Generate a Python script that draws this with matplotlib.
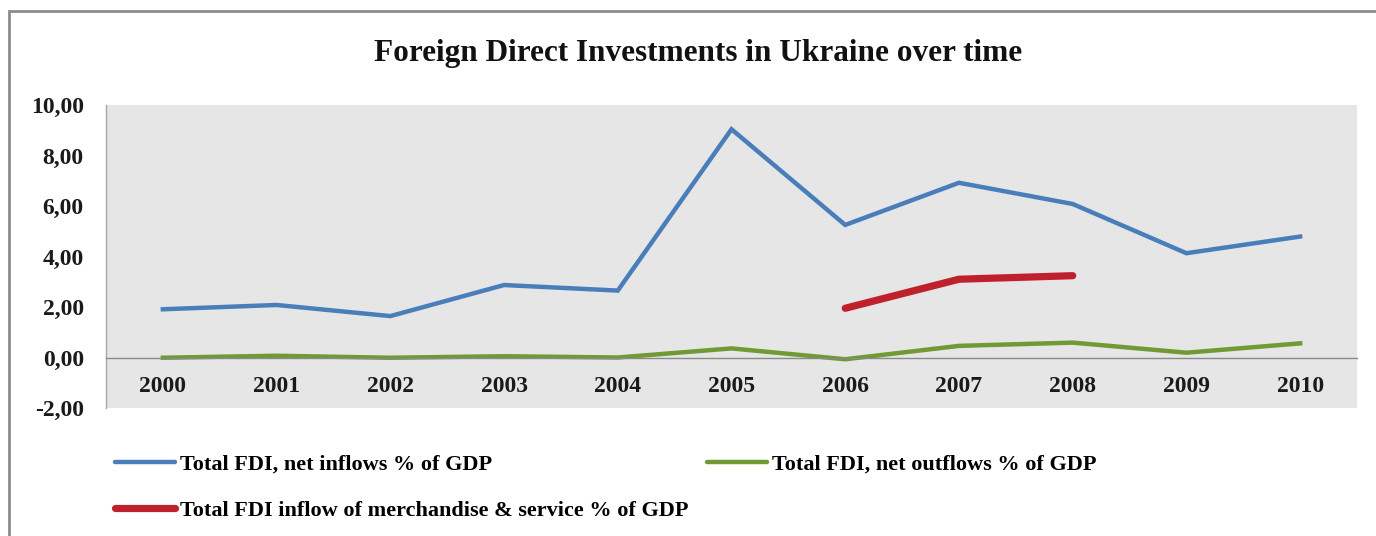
import matplotlib
matplotlib.use("Agg")
import matplotlib.pyplot as plt
from matplotlib.patches import Rectangle
from matplotlib.ticker import FuncFormatter

years = ["2000", "2001", "2002", "2003", "2004", "2005", "2006", "2007", "2008", "2009", "2010"]
net_inflows = [1.91, 2.08, 1.64, 2.87, 2.65, 9.04, 5.25, 6.92, 6.08, 4.13, 4.79]
net_outflows = [-0.01, 0.07, -0.01, 0.05, 0.00, 0.36, -0.07, 0.46, 0.59, 0.19, 0.56]
merch_service_years = ["2006", "2007", "2008"]
merch_service = [1.95, 3.10, 3.24]

TITLE = "Foreign Direct Investments in Ukraine over time"
LABEL_IN = "Total FDI, net inflows % of GDP"
LABEL_OUT = "Total FDI, net outflows % of GDP"
LABEL_MERCH = "Total FDI inflow of merchandise & service % of GDP"

SERIF = ["Liberation Serif", "DejaVu Serif"]
BLUE = "#4a7ebb"
GREEN = "#6f9a34"
RED = "#c0202b"

W, H = 1376, 536
fig = plt.figure(figsize=(W / 100, H / 100), dpi=100)
fig.patch.set_facecolor("white")

# outer chart frame (runs off the right and bottom edges)
fig.patches.append(Rectangle((9 / W, -0.1), 1.2, 1 - 11 / H + 0.1,
                             transform=fig.transFigure, fill=False,
                             edgecolor="#8c8c8c", linewidth=2))

ax = fig.add_axes([106 / W, 1 - 408 / H, (1357 - 106) / W, (408 - 105) / H])
ax.set_facecolor("#e6e6e6")

x = list(range(len(years)))
x_merch = [years.index(y) for y in merch_service_years]

l_in, = ax.plot(x, net_inflows, color=BLUE, linewidth=3.2, solid_joinstyle="miter")
l_out, = ax.plot(x, net_outflows, color=GREEN, linewidth=3.2, solid_joinstyle="miter")
l_merch, = ax.plot(x_merch, merch_service, color=RED, linewidth=5.2,
                   solid_capstyle="round", solid_joinstyle="miter")

ax.set_xlim(-0.5, len(years) - 0.5)
ax.set_ylim(-2, 10)
ax.set_yticks([-2, 0, 2, 4, 6, 8, 10])
ax.yaxis.set_major_formatter(FuncFormatter(lambda v, _: f"{v:.2f}".replace(".", ",")))

ax.spines["top"].set_visible(False)
ax.spines["right"].set_visible(False)
ax.spines["left"].set_color("#a6a6a6")
ax.spines["left"].set_linewidth(1.0)
ax.spines["bottom"].set_position(("data", 0))
ax.spines["bottom"].set_color("#8a8a8a")
ax.spines["bottom"].set_linewidth(1.0)

ax.set_xticks(x)
ax.set_xticklabels(years)
ax.tick_params(axis="x", length=0, pad=13)
ax.tick_params(axis="y", length=0, pad=16)
for lbl in ax.get_xticklabels() + ax.get_yticklabels():
    lbl.set_fontfamily(SERIF)
    lbl.set_fontweight("bold")
    lbl.set_fontsize(17)
    lbl.set_color("#1a1a1a")

fig.text(698 / W, 1 - 53 / H, TITLE, ha="center", va="center",
         fontsize=22.5, fontweight="bold", family=SERIF, color="#111111")

leg = fig.legend([l_in, l_merch, l_out], [LABEL_IN, LABEL_MERCH, LABEL_OUT],
                 ncol=2, loc="upper left", bbox_to_anchor=(115 / W, 1 - 454 / H),
                 frameon=False, borderpad=0, borderaxespad=0,
                 handlelength=2.7, handletextpad=0.22,
                 columnspacing=0.82, labelspacing=1.15,
                 prop={"family": SERIF, "weight": "bold", "size": 16})
for line in leg.get_lines():
    line.set_solid_capstyle("round")

fig.savefig("out.png", dpi=100)
